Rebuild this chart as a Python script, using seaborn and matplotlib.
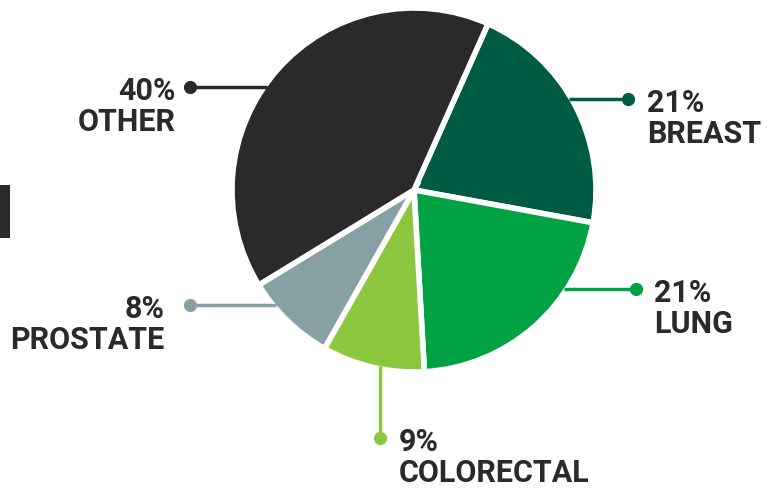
import matplotlib
matplotlib.use("Agg")
import matplotlib.pyplot as plt
import seaborn as sns
import numpy as np

categories = ["BREAST", "LUNG", "COLORECTAL", "PROSTATE", "OTHER"]
values = [21, 21, 9, 8, 40]
labels_pct = ["21%", "21%", "9%", "8%", "40%"]
colors = ["#005b45", "#00a244", "#8dc63f", "#87a0a4", "#2a2a2a"]

sns.set_theme(style="white")
plt.rcParams['font.family'] = ['Roboto', 'DejaVu Sans']

W, H = 780, 490
fig = plt.figure(figsize=(W / 100, H / 100), dpi=100)
ax = fig.add_axes([0, 0, 1, 1])

cx, cy, R = 414, H - 190, 182
ax.pie(values, colors=colors, startangle=66, counterclock=False,
       center=(cx, cy), radius=R, frame=True,
       wedgeprops=dict(edgecolor="white", linewidth=4))
ax.set_xlim(0, W)
ax.set_ylim(0, H)
ax.set_aspect("equal")
ax.axis("off")

text_color = "#2a2a2a"
layout = {
    "BREAST": dict(dot=(628, 99), kind="h", tx=647, ha="left"),
    "LUNG": dict(dot=(636, 289), kind="h", tx=654, ha="left"),
    "COLORECTAL": dict(dot=(380, 438), kind="v", tx=399, ha="left"),
    "PROSTATE": dict(dot=(190, 305), kind="h", tx=164, ha="right"),
    "OTHER": dict(dot=(190, 87), kind="h", tx=176, ha="right"),
}

for cat, pct, col in zip(categories, labels_pct, colors):
    L = layout[cat]
    dx, dyp = L["dot"]
    dy = H - dyp
    if L["kind"] == "h":
        off = np.sqrt(max(R**2 - (dy - cy) ** 2, 0)) - 3
        ex = cx + off if dx > cx else cx - off
        ax.plot([dx, ex], [dy, dy], color=col, lw=2.5, solid_capstyle="butt", zorder=5)
    else:
        off = np.sqrt(max(R**2 - (dx - cx) ** 2, 0)) - 3
        ey = cy - off
        ax.plot([dx, dx], [dy, ey], color=col, lw=2.5, solid_capstyle="butt", zorder=5)
    ax.scatter([dx], [dy], s=90, color=col, zorder=6, linewidths=0)
    ty = dy - 4
    ax.text(L["tx"], ty, pct, ha=L["ha"], va="center", fontsize=22,
            fontweight="bold", color=text_color)
    ax.text(L["tx"], ty - 31, cat, ha=L["ha"], va="center", fontsize=22,
            fontweight="bold", color=text_color)

ax.add_patch(plt.Rectangle((0, H - 238), 10, 53, color="#2a2a2a", lw=0))

fig.savefig("out.png", dpi=100, facecolor="white")
